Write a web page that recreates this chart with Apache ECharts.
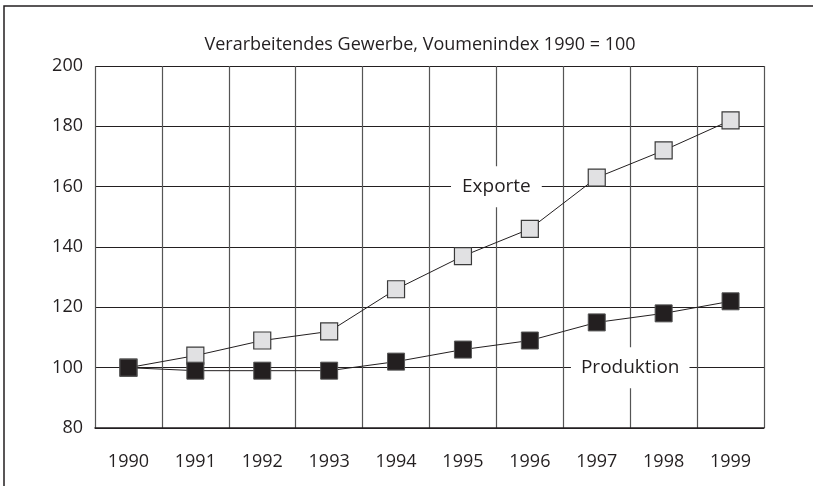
<!DOCTYPE html>
<html>
<head>
<meta charset="utf-8">
<script src="https://cdn.jsdelivr.net/npm/echarts@6/dist/echarts.min.js"></script>
<style>html,body{margin:0;padding:0;background:#fff;}#c{width:813px;height:486px;}</style>
</head>
<body>
<div id="c"></div>
<script>
const years = ['1990','1991','1992','1993','1994','1995','1996','1997','1998','1999'];
const exporte = [100, 104, 109, 112, 126, 137, 146, 163, 172, 182];
const produktion = [100, 99, 99, 99, 102, 106, 109, 115, 118, 122];
const titleText = 'Verarbeitendes Gewerbe, Voumenindex 1990 = 100';
const exporteLabel = { name: 'Exporte', pos: [6, 160] };
const produktionLabel = { name: 'Produktion', pos: [8, 100] };

const FONT = 'Open Sans';
const chart = echarts.init(document.getElementById('c'), null, { renderer: 'canvas' });
chart.setOption({
  animation: false,
  backgroundColor: '#fff',
  title: {
    text: titleText,
    left: 415, top: 31, textAlign: 'center',
    textStyle: { fontFamily: FONT, fontSize: 18, fontWeight: 'normal', color: '#231f20' }
  },
  grid: { left: 95, right: 49, top: 66, bottom: 58 },
  xAxis: [{
    type: 'category', data: years, boundaryGap: true,
    axisLine: { show: true, lineStyle: { color: '#231f20', width: 1.5 } },
    axisTick: { show: false },
    axisLabel: { fontFamily: FONT, fontSize: 18, color: '#231f20', margin: 25 },
    splitLine: { show: true, lineStyle: { color: '#555', width: 1.2 } }
  }, {
    type: 'value', min: 0, max: 10, show: false
  }],
  yAxis: {
    type: 'value', min: 80, max: 200, interval: 20,
    axisLine: { show: false }, axisTick: { show: false },
    axisLabel: { fontFamily: FONT, fontSize: 18, color: '#231f20', margin: 12 },
    splitLine: { show: true, lineStyle: { color: '#231f20', width: 1.2 } }
  },
  series: [{
    name: 'Exporte', type: 'line', data: exporte,
    symbol: 'rect', symbolSize: 17,
    lineStyle: { color: '#231f20', width: 1 },
    itemStyle: { color: '#e1e1e3', borderColor: '#3a3a3a', borderWidth: 1.2 },
    z: 3
  }, {
    name: 'Produktion', type: 'line', data: produktion,
    symbol: 'rect', symbolSize: 17,
    lineStyle: { color: '#231f20', width: 1 },
    itemStyle: { color: '#231f20', borderColor: '#555', borderWidth: 1 },
    z: 4
  }]
});

function labelGraphic(lbl, padH, padV) {
  const p = chart.convertToPixel({ xAxisIndex: 1, yAxisIndex: 0 }, lbl.pos);
  return {
    type: 'text', x: p[0], y: p[1], z: 10, silent: true,
    style: {
      text: lbl.name, fontFamily: FONT, fontSize: 19, fill: '#231f20',
      align: 'center', verticalAlign: 'middle',
      backgroundColor: '#fff', padding: [padV, padH]
    }
  };
}
chart.setOption({
  graphic: [{
    type: 'rect', shape: { x: 4, y: 6, width: 900, height: 600 },
    style: { fill: 'none', stroke: '#231f20', lineWidth: 1.5 }, silent: true, z: -1
  },
  labelGraphic(exporteLabel, 11, 11),
  labelGraphic(produktionLabel, 10, 11)]
});
</script>
</body>
</html>
